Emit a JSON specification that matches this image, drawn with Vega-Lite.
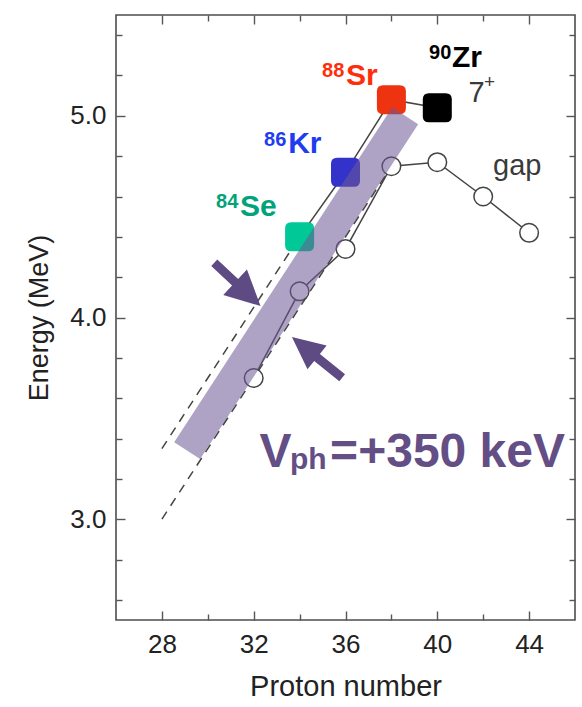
{
  "$schema": "https://vega.github.io/schema/vega-lite/v6.json",
  "width": 459,
  "height": 605,
  "autosize": {"type": "none"},
  "padding": {"left": 116, "top": 15, "right": 7, "bottom": 87},
  "background": "white",
  "view": {"stroke": "#4d4d4d", "strokeWidth": 1.6},
  "config": {
    "font": "Liberation Sans",
    "axis": {"grid": false, "domain": false, "labels": false, "ticks": true, "tickColor": "#555555", "tickWidth": 1.4}
  },
  "datasets": {
    "gap": [
      {"Z": 32, "E": 3.70}, {"Z": 34, "E": 4.13}, {"Z": 36, "E": 4.34}, {"Z": 38, "E": 4.75},
      {"Z": 40, "E": 4.77}, {"Z": 42, "E": 4.60}, {"Z": 44, "E": 4.42}
    ],
    "states": [
      {"Z": 34, "E": 4.40, "nucleus": "Se"},
      {"Z": 36, "E": 4.72, "nucleus": "Kr"},
      {"Z": 38, "E": 5.08, "nucleus": "Sr"},
      {"Z": 40, "E": 5.04, "nucleus": "Zr"}
    ],
    "trend": [
      {"line": "upper", "Z": 28, "E": 3.35}, {"line": "upper", "Z": 34, "E": 4.40},
      {"line": "lower", "Z": 28, "E": 3.00}, {"line": "lower", "Z": 38, "E": 4.75}
    ],
    "band": [{"Z": 29.1, "E": 3.34}, {"Z": 38.6, "E": 5.0}],
    "arrows": [
      {"Z": 31.29, "E": 4.164, "side": "upper"},
      {"Z": 34.76, "E": 3.802, "side": "lower"}
    ],
    "labels": [
      {"Z": 30.36, "E": 4.543, "text": "84", "tint": "Se", "kind": "mass"},
      {"Z": 31.40, "E": 4.503, "text": "Se", "tint": "Se", "kind": "symbol"},
      {"Z": 32.45, "E": 4.850, "text": "86", "tint": "Kr", "kind": "mass"},
      {"Z": 33.50, "E": 4.816, "text": "Kr", "tint": "Kr", "kind": "symbol"},
      {"Z": 34.98, "E": 5.193, "text": "88", "tint": "Sr", "kind": "mass"},
      {"Z": 36.02, "E": 5.153, "text": "Sr", "tint": "Sr", "kind": "symbol"},
      {"Z": 39.64, "E": 5.282, "text": "90", "tint": "Zr", "kind": "mass"},
      {"Z": 40.64, "E": 5.242, "text": "Zr", "tint": "Zr", "kind": "symbol"},
      {"Z": 32.25, "E": 3.259, "text": "V", "tint": "vph", "kind": "big"},
      {"Z": 33.58, "E": 3.249, "text": "ph", "tint": "vph", "kind": "symbol"},
      {"Z": 35.33, "E": 3.259, "text": "=+350 keV", "tint": "vph", "kind": "big"},
      {"Z": 41.36, "E": 5.069, "text": "7", "tint": "note", "kind": "note"},
      {"Z": 42.04, "E": 5.140, "text": "+", "tint": "note", "kind": "sup"},
      {"Z": 42.43, "E": 4.707, "text": "gap", "tint": "note", "kind": "note"}
    ]
  },
  "encoding": {
    "x": {"field": "Z", "type": "quantitative", "scale": {"domain": [26, 46], "nice": false, "zero": false}, "axis": null},
    "y": {"field": "E", "type": "quantitative", "scale": {"domain": [2.5, 5.5], "nice": false, "zero": false}, "axis": null}
  },
  "resolve": {"axis": {"x": "independent", "y": "independent"}},
  "layer": [
    {
      "data": {"name": "trend"},
      "mark": {"type": "line", "color": "#444444", "strokeWidth": 1.5, "strokeDash": [9, 7]},
      "encoding": {
        "x": {
          "field": "Z", "type": "quantitative",
          "scale": {"domain": [26, 46], "nice": false, "zero": false},
          "axis": {
            "orient": "bottom", "values": [28, 32, 36, 40, 44], "tickSize": -9,
            "labels": true, "labelFontSize": 26, "labelColor": "#222222", "labelPadding": 20,
            "title": "Proton number", "titleFontSize": 29, "titleFontWeight": "normal",
            "titleColor": "#222222", "titleBaseline": "alphabetic", "titleY": 75
          }
        },
        "y": {
          "field": "E", "type": "quantitative",
          "scale": {"domain": [2.5, 5.5], "nice": false, "zero": false},
          "axis": {
            "orient": "left", "values": [3, 4, 5], "format": ".1f", "tickSize": -9,
            "labels": true, "labelFontSize": 26, "labelColor": "#222222", "labelPadding": 19,
            "title": "Energy (MeV)", "titleFontSize": 27, "titleFontWeight": "normal",
            "titleColor": "#222222", "titleBaseline": "alphabetic", "titleX": -69
          }
        },
        "detail": {"field": "line"}
      }
    },
    {
      "data": {"name": "gap"},
      "mark": {"type": "line", "color": "#444444", "strokeWidth": 1.5},
      "encoding": {
        "x": {
          "field": "Z", "type": "quantitative",
          "scale": {"domain": [26, 46], "nice": false, "zero": false},
          "axis": {"orient": "bottom", "values": [30, 34, 38, 42], "tickSize": -6, "title": null}
        },
        "y": {
          "field": "E", "type": "quantitative",
          "scale": {"domain": [2.5, 5.5], "nice": false, "zero": false},
          "axis": {"orient": "left", "values": [2.6, 2.8, 3.2, 3.4, 3.6, 3.8, 4.2, 4.4, 4.6, 4.8, 5.2, 5.4], "tickSize": -6, "title": null}
        }
      }
    },
    {
      "data": {"name": "states"},
      "mark": {"type": "line", "color": "#444444", "strokeWidth": 1.5},
      "encoding": {
        "x": {
          "field": "Z", "type": "quantitative",
          "scale": {"domain": [26, 46], "nice": false, "zero": false},
          "axis": {"orient": "top", "values": [28, 32, 36, 40, 44], "tickSize": -9, "title": null}
        },
        "y": {
          "field": "E", "type": "quantitative",
          "scale": {"domain": [2.5, 5.5], "nice": false, "zero": false},
          "axis": {"orient": "right", "values": [3, 4, 5], "tickSize": -9, "title": null}
        }
      }
    },
    {
      "data": {"name": "gap"},
      "mark": {"type": "point", "shape": "circle", "filled": true, "fill": "white", "stroke": "#444444", "strokeWidth": 1.5, "opacity": 1, "size": 346},
      "encoding": {
        "x": {
          "field": "Z", "type": "quantitative",
          "scale": {"domain": [26, 46], "nice": false, "zero": false},
          "axis": {"orient": "top", "values": [30, 34, 38, 42], "tickSize": -6, "title": null}
        },
        "y": {
          "field": "E", "type": "quantitative",
          "scale": {"domain": [2.5, 5.5], "nice": false, "zero": false},
          "axis": {"orient": "right", "values": [2.6, 2.8, 3.2, 3.4, 3.6, 3.8, 4.2, 4.4, 4.6, 4.8, 5.2, 5.4], "tickSize": -6, "title": null}
        }
      }
    },
    {
      "data": {"name": "states"},
      "mark": {
        "type": "point", "filled": true, "opacity": 1, "size": 841, "strokeWidth": 0,
        "shape": "M-0.58,-1 L0.58,-1 Q1,-1 1,-0.58 L1,0.58 Q1,1 0.58,1 L-0.58,1 Q-1,1 -1,0.58 L-1,-0.58 Q-1,-1 -0.58,-1 Z"
      },
      "encoding": {
        "fill": {
          "field": "nucleus", "type": "nominal", "legend": null,
          "scale": {"domain": ["Se", "Kr", "Sr", "Zr"], "range": ["#00c896", "#3333cc", "#ee3311", "#000000"]}
        }
      }
    },
    {
      "data": {"name": "band"},
      "mark": {"type": "line", "color": "#6b5893", "opacity": 0.55, "strokeWidth": 31, "strokeCap": "butt"},
      "encoding": {}
    },
    {
      "data": {"name": "arrows"},
      "transform": [{"filter": "datum.side === 'upper'"}],
      "mark": {
        "type": "point", "filled": true, "opacity": 1, "color": "#5f4b84", "size": 4000, "angle": 133,
        "shape": "M0,-1 L0.55,0.1 L0.14,0.1 L0.14,1 L-0.14,1 L-0.14,0.1 L-0.55,0.1 Z"
      },
      "encoding": {}
    },
    {
      "data": {"name": "arrows"},
      "transform": [{"filter": "datum.side === 'lower'"}],
      "mark": {
        "type": "point", "filled": true, "opacity": 1, "color": "#5f4b84", "size": 4180, "angle": 309,
        "shape": "M0,-1 L0.47,0 L0.14,0 L0.14,1 L-0.14,1 L-0.14,0 L-0.47,0 Z"
      },
      "encoding": {}
    },
    {
      "data": {"name": "labels"},
      "transform": [{"filter": "datum.kind === 'mass'"}],
      "mark": {"type": "text", "align": "left", "baseline": "alphabetic", "fontWeight": "bold", "fontSize": 20},
      "encoding": {
        "text": {"field": "text"},
        "color": {
          "field": "tint", "type": "nominal", "legend": null,
          "scale": {"domain": ["Se", "Kr", "Sr", "Zr", "vph", "note"], "range": ["#00a37a", "#1e3cf0", "#ff2d0a", "#000000", "#634e85", "#3a3a3a"]}
        }
      }
    },
    {
      "data": {"name": "labels"},
      "transform": [{"filter": "datum.kind === 'symbol'"}],
      "mark": {"type": "text", "align": "left", "baseline": "alphabetic", "fontWeight": "bold", "fontSize": 30},
      "encoding": {
        "text": {"field": "text"},
        "color": {
          "field": "tint", "type": "nominal", "legend": null,
          "scale": {"domain": ["Se", "Kr", "Sr", "Zr", "vph", "note"], "range": ["#00a37a", "#1e3cf0", "#ff2d0a", "#000000", "#634e85", "#3a3a3a"]}
        }
      }
    },
    {
      "data": {"name": "labels"},
      "transform": [{"filter": "datum.kind === 'big'"}],
      "mark": {"type": "text", "align": "left", "baseline": "alphabetic", "fontWeight": "bold", "fontSize": 48},
      "encoding": {
        "text": {"field": "text"},
        "color": {
          "field": "tint", "type": "nominal", "legend": null,
          "scale": {"domain": ["Se", "Kr", "Sr", "Zr", "vph", "note"], "range": ["#00a37a", "#1e3cf0", "#ff2d0a", "#000000", "#634e85", "#3a3a3a"]}
        }
      }
    },
    {
      "data": {"name": "labels"},
      "transform": [{"filter": "datum.kind === 'note'"}],
      "mark": {"type": "text", "align": "left", "baseline": "alphabetic", "fontSize": 29},
      "encoding": {
        "text": {"field": "text"},
        "color": {
          "field": "tint", "type": "nominal", "legend": null,
          "scale": {"domain": ["Se", "Kr", "Sr", "Zr", "vph", "note"], "range": ["#00a37a", "#1e3cf0", "#ff2d0a", "#000000", "#634e85", "#3a3a3a"]}
        }
      }
    },
    {
      "data": {"name": "labels"},
      "transform": [{"filter": "datum.kind === 'sup'"}],
      "mark": {"type": "text", "align": "left", "baseline": "alphabetic", "fontSize": 19},
      "encoding": {
        "text": {"field": "text"},
        "color": {
          "field": "tint", "type": "nominal", "legend": null,
          "scale": {"domain": ["Se", "Kr", "Sr", "Zr", "vph", "note"], "range": ["#00a37a", "#1e3cf0", "#ff2d0a", "#000000", "#634e85", "#3a3a3a"]}
        }
      }
    }
  ]
}
